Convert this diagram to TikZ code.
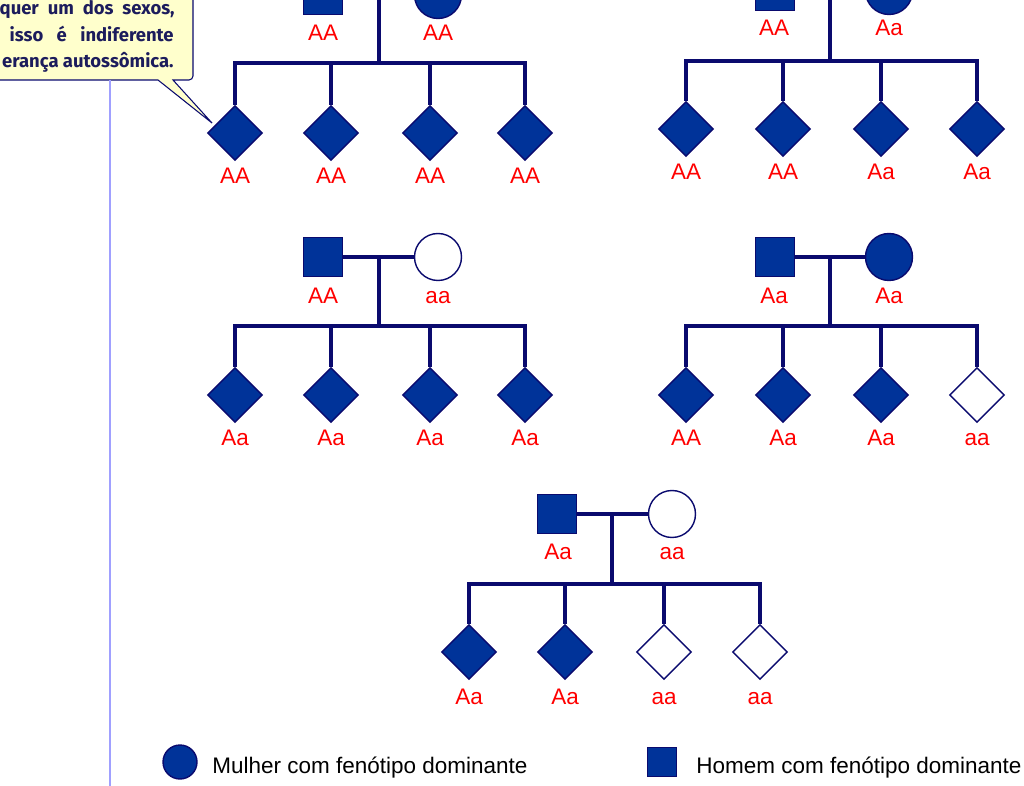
\documentclass[tikz,border=0pt]{standalone}
\usepackage{fontspec}
\setmainfont{Liberation Sans}
\newfontfamily\notefont{Fira Sans}
\usetikzlibrary{shapes.geometric}
\definecolor{pedfill}{RGB}{0,51,153}
\definecolor{pedline}{RGB}{10,10,110}
\definecolor{notebg}{RGB}{255,255,204}
\definecolor{notetext}{RGB}{28,28,92}
\definecolor{marginrule}{RGB}{160,160,255}

\begin{document}
\begin{tikzpicture}[x=0.02cm,y=-0.02cm]
	\tikzstyle{male}=[rectangle,draw=pedline,fill=pedfill,line width=0.8pt,minimum size=0.78cm,inner sep=0pt]
	\tikzstyle{female}=[circle,draw=pedline,fill=pedfill,line width=0.8pt,minimum size=0.94cm,inner sep=0pt]
	\tikzstyle{child}=[diamond,draw=pedline,fill=pedfill,line width=0.8pt,minimum size=1.1cm,inner sep=0pt]
	\tikzstyle{blank}=[fill=white]
	\tikzstyle{gen}=[red,anchor=base,inner sep=0pt,font=\fontsize{12.8}{15}\selectfont]
	\tikzstyle{key}=[black,anchor=base west,inner sep=0pt,font=\fontsize{12.8}{15}\selectfont]
	\tikzstyle{note}=[notetext,anchor=base east,inner sep=0pt,font=\notefont\bfseries\fontsize{10.5}{12}\selectfont]
	\tikzstyle{link}=[draw=pedline,line width=2.1pt]
	\tikzstyle{drop}=[to path={-| (\tikztotarget)}]

	\clip (0,0) rectangle (1024,786);
	\useasboundingbox (0,0) rectangle (1024,786);

	% callout and margin
	\coordinate (tip) at (212,123);
	\draw[draw=pedline,fill=notebg,line width=0.6pt] (-20,-20) -- (-20,80) -- (158,80) -- (tip) -- (173,80)
		[rounded corners=0.08cm] -- (193,80) -- (193,-20) -- cycle;
	\node[note](n1) at (175,15){\makebox[3.5cm][s]{quer um dos sexos,}};
	\node[note](n2) at (174,42){\makebox[3.28cm][s]{isso é indiferente}};
	\node[note](n3) at (174,68){erança autossômica.};
	\draw[marginrule,line width=0.8pt] (110,80) -- (110,786);

	% family 1
	\node[male](f1) at (323,-5){};
	\node[female](m1) at (438,-5){};
	\coordinate (j1) at (379,-5);
	\coordinate (d1) at (379,63);
	\node[child](c11) at (235,133){};
	\node[child](c12) at (331,133){};
	\node[child](c13) at (430,133){};
	\node[child](c14) at (525,133){};
	\node[gen](gf1) at (323,41){AA};
	\node[gen](gm1) at (438,41){AA};
	\node[gen](g11) at (235,184){AA};
	\node[gen](g12) at (331,184){AA};
	\node[gen](g13) at (430,184){AA};
	\node[gen](g14) at (525,184){AA};

	% family 2
	\node[male](f2) at (775,-9){};
	\node[female](m2) at (889,-9){};
	\coordinate (j2) at (830,-9);
	\coordinate (d2) at (830,61);
	\node[child](c21) at (686,129){};
	\node[child](c22) at (783,129){};
	\node[child](c23) at (881,129){};
	\node[child](c24) at (977,129){};
	\node[gen](gf2) at (774,36){AA};
	\node[gen](gm2) at (889,36){Aa};
	\node[gen](g21) at (686,180){AA};
	\node[gen](g22) at (783,180){AA};
	\node[gen](g23) at (881,180){Aa};
	\node[gen](g24) at (977,180){Aa};

	% family 3
	\node[male](f3) at (323,257){};
	\node[female,blank](m3) at (438,257){};
	\coordinate (j3) at (379,257);
	\coordinate (d3) at (379,326);
	\node[child](c31) at (235,395){};
	\node[child](c32) at (331,395){};
	\node[child](c33) at (430,395){};
	\node[child](c34) at (525,395){};
	\node[gen](gf3) at (323,304){AA};
	\node[gen](gm3) at (438,304){aa};
	\node[gen](g31) at (235,446){Aa};
	\node[gen](g32) at (331,446){Aa};
	\node[gen](g33) at (430,446){Aa};
	\node[gen](g34) at (525,446){Aa};

	% family 4
	\node[male](f4) at (775,257){};
	\node[female](m4) at (889,257){};
	\coordinate (j4) at (830,257);
	\coordinate (d4) at (830,326);
	\node[child](c41) at (686,395){};
	\node[child](c42) at (783,395){};
	\node[child](c43) at (881,395){};
	\node[child,blank](c44) at (977,395){};
	\node[gen](gf4) at (774,304){Aa};
	\node[gen](gm4) at (889,304){Aa};
	\node[gen](g41) at (686,446){AA};
	\node[gen](g42) at (783,446){Aa};
	\node[gen](g43) at (881,446){Aa};
	\node[gen](g44) at (977,446){aa};

	% family 5
	\node[male](f5) at (557,514){};
	\node[female,blank](m5) at (672,514){};
	\coordinate (j5) at (612,514);
	\coordinate (d5) at (612,584);
	\node[child](c51) at (469,652){};
	\node[child](c52) at (565,652){};
	\node[child,blank](c53) at (664,652){};
	\node[child,blank](c54) at (760,652){};
	\node[gen](gf5) at (558,560){Aa};
	\node[gen](gm5) at (672,560){aa};
	\node[gen](g51) at (469,704){Aa};
	\node[gen](g52) at (565,704){Aa};
	\node[gen](g53) at (664,704){aa};
	\node[gen](g54) at (760,704){aa};

	\path[link]
		(f1) edge (m1)  (j1) edge (d1)
		(d1) edge[drop] (c11)  (d1) edge[drop] (c12)  (d1) edge[drop] (c13)  (d1) edge[drop] (c14)
		(f2) edge (m2)  (j2) edge (d2)
		(d2) edge[drop] (c21)  (d2) edge[drop] (c22)  (d2) edge[drop] (c23)  (d2) edge[drop] (c24)
		(f3) edge (m3)  (j3) edge (d3)
		(d3) edge[drop] (c31)  (d3) edge[drop] (c32)  (d3) edge[drop] (c33)  (d3) edge[drop] (c34)
		(f4) edge (m4)  (j4) edge (d4)
		(d4) edge[drop] (c41)  (d4) edge[drop] (c42)  (d4) edge[drop] (c43)  (d4) edge[drop] (c44)
		(f5) edge (m5)  (j5) edge (d5)
		(d5) edge[drop] (c51)  (d5) edge[drop] (c52)  (d5) edge[drop] (c53)  (d5) edge[drop] (c54);

	% legend
	\node[female,minimum size=0.68cm](kw) at (180,762){};
	\node[key](tw) at (212,773){Mulher com fenótipo dominante};
	\node[male,minimum size=0.58cm](km) at (662,762){};
	\node[key](tm) at (696,773){Homem com fenótipo dominante};
\end{tikzpicture}
\end{document}
